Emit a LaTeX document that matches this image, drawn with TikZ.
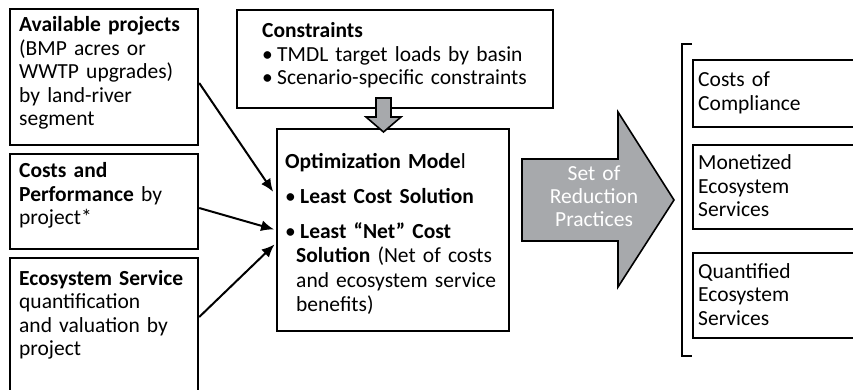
\documentclass[tikz,border=0pt]{standalone}
\usepackage{fontspec}
\setmainfont{Carlito}
\usepackage{tikz}
\usetikzlibrary{arrows.meta}

\definecolor{arrowgray}{RGB}{167,169,172}
\newcommand{\bul}{•\hspace{0.2em}}

\tikzset{
  box/.style={draw, line width=2.2pt, anchor=north west, inner sep=0pt},
  txt/.style={anchor=base west, inner sep=0pt, align=left, text width=250pt, font=\fontsize{21.5}{23.5}\selectfont},
  blockarrow/.style={draw, line width=1.6pt, fill=arrowgray, line join=miter},
  feed/.style={line width=2pt, -{Latex[length=13pt, width=11pt]}}
}

\begin{document}
\begin{tikzpicture}[x=1pt, y=-1pt]
  \path[use as bounding box, clip] (0,0) rectangle (853,390);

  % input boxes
  \node[box, minimum width=188pt, minimum height=136pt] (avail) at (9,8) {};
  \node[box, minimum width=188pt, minimum height=95pt] (costs) at (9,153) {};
  \node[box, minimum width=188pt, minimum height=145pt] (eco) at (9,257) {};
  \node[txt] (availtxt) at (19,32) {\textbf{Available projects}\\(BMP acres or\\WWTP upgrades)\\by land-river\\segment};
  \node[txt] (coststxt) at (19,178) {\textbf{Costs and}\\\textbf{Performance} by\\project*};
  \node[txt] (ecotxt) at (19,285) {\textbf{Ecosystem Service}\\quantification\\and valuation by\\project};

  % constraints and model
  \node[box, minimum width=316pt, minimum height=98pt] (cons) at (236,9) {};
  \node[txt, text width=300pt] (constxt) at (262,38) {\textbf{Constraints}\\\bul TMDL target loads by basin\\\bul Scenario-specific constraints};
  \node[box, minimum width=232pt, minimum height=202pt] (opt) at (276,128) {};
  \node[txt, font=\fontsize{21.5}{24.5}\selectfont] (opttxt) at (285,168) {\textbf{Optimization Mode}l\\[10.5pt]
    \bul\textbf{Least Cost Solution}\\[10.5pt]
    \bul\textbf{Least “Net” Cost}\\
    \hspace*{11pt}\textbf{Solution} (Net of costs\\
    \hspace*{11pt}and ecosystem service\\
    \hspace*{11pt}benefits)};

  \draw[blockarrow] (376,98) -- (391,98) -- (391,117) -- (401,117) -- (383.5,132)
    -- (366,117) -- (376,117) -- cycle;

  % inputs into the model
  \draw[feed, shorten >=5pt] (avail.east |- 0,83) -- (opt.west |- 0,196);
  \draw[feed, shorten >=2pt] (costs.east |- 0,208) -- (opt.west |- 0,230);
  \draw[feed, shorten >=2pt] (eco.east |- 0,317) -- (opt.west |- 0,243);

  % output arrow
  \draw[blockarrow] (522,159) -- (618,159) -- (618,112) -- (674,200) -- (618,287)
    -- (618,241) -- (522,241) -- cycle;
  \node[txt, anchor=base, align=center, text width=110pt, text=white] (practices) at (594,180) {Set of\\Reduction\\Practices};

  % outcomes
  \draw[line width=2.2pt] (692,44) -- (682,44) -- (682,356) -- (692,356);
  \node[box, minimum width=170pt, minimum height=67pt] (compl) at (692,59) {};
  \node[box, minimum width=170pt, minimum height=84pt] (monet) at (692,144) {};
  \node[box, minimum width=170pt, minimum height=85pt] (quant) at (692,252) {};
  \node[txt, text width=150pt] (compltxt) at (698,87) {Costs of\\Compliance};
  \node[txt, text width=150pt] (monettxt) at (698,170) {Monetized\\Ecosystem\\Services};
  \node[txt, text width=150pt] (quanttxt) at (698,278) {Quantified\\Ecosystem\\Services};
\end{tikzpicture}
\end{document}
